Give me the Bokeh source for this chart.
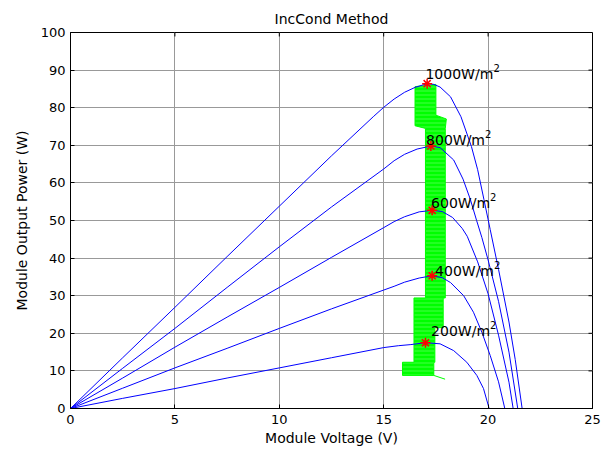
from bokeh.plotting import figure
from bokeh.models import Range1d, FixedTicker, Title
from bokeh.core.properties import value
from bokeh.embed import file_html
from bokeh.resources import INLINE

# ---- P-V curves (V in volts, P in watts) ----
v_1000 = [0, 2.5, 5, 7.5, 10, 12.5, 14.5, 15, 15.5, 16, 16.5, 17.08, 17.4, 17.7, 18.2, 18.7, 19.2, 19.5, 19.8, 20.1, 20.5, 21.0, 21.3, 21.63]
p_1000 = [0, 13.5, 26.9, 40.4, 53.8, 67.2, 77.6, 80.1, 82.3, 84.1, 85.4, 86.4, 86.2, 85.5, 82.9, 77.6, 69.7, 63.5, 55.6, 47.6, 37.0, 23.0, 13.0, 0]

v_800 = [0, 2.5, 5, 7.5, 10, 12.5, 15, 15.5, 16, 16.6, 17.26, 17.7, 18.35, 18.8, 19.15, 19.45, 19.7, 20.0, 20.5, 21.0, 21.42]
p_800 = [0, 10.7, 21.3, 32.2, 43.0, 53.6, 63.7, 65.9, 67.6, 69.0, 69.8, 69.4, 66.1, 61.0, 55.6, 50.0, 45.5, 39.5, 28.5, 15.0, 0]

v_600 = [0, 2.5, 5, 7.5, 10, 12.5, 15, 15.5, 16, 16.7, 17.32, 17.8, 18.3, 18.76, 19.0, 19.5, 20.0, 20.5, 21.0, 21.2]
p_600 = [0, 8.1, 16.3, 24.3, 32.2, 40.2, 48.1, 49.7, 51.0, 52.3, 52.7, 52.4, 50.8, 47.9, 45.8, 39.0, 30.5, 19.5, 7.0, 0]

v_400 = [0, 2.5, 5, 7.5, 10, 12.5, 15, 15.5, 16, 16.7, 17.32, 17.8, 18.2, 18.83, 19.3, 19.7, 20.1, 20.5, 20.8]
p_400 = [0, 5.4, 10.8, 16.0, 21.3, 26.5, 31.5, 32.5, 33.6, 34.7, 35.3, 34.8, 33.5, 30.0, 25.6, 20.3, 14.1, 7.1, 0]

v_200 = [0, 2.5, 5, 7.5, 10, 12.5, 15, 15.7, 16.3, 17.0, 17.7, 18.35, 18.98, 19.46, 19.78, 20.05]
p_200 = [0, 2.7, 5.3, 8.1, 10.8, 13.5, 16.2, 16.7, 17.0, 17.5, 17.2, 15.4, 12.3, 8.8, 5.3, 0]

# ---- maximum power points (red stars) ----
mpp_v = [17.08, 17.26, 17.32, 17.32, 17.0]
mpp_p = [86.4, 69.8, 52.7, 35.3, 17.5]

# ---- irradiance labels ----
label_text = ["1000W/m", "800W/m", "600W/m", "400W/m", "200W/m"]
label_sup = ["2", "2", "2", "2", "2"]
label_v = [17.0, 17.03, 17.27, 17.46, 17.27]
label_p = [88.9, 71.4, 54.7, 36.6, 20.7]

# ---- IncCond operating trajectory (green region outline) ----
trace_v = [16.5, 17.5, 17.5, 18.0, 17.95, 17.95, 17.85, 17.85, 17.45, 17.45, 17.4, 17.4,
           15.9, 15.9, 16.45, 16.45, 17.0, 17.0, 16.5, 16.5]
trace_p = [85.6, 86.2, 78.0, 77.0, 74.5, 29.4, 29.4, 21.5, 21.5, 12.3, 12.3, 8.8,
           8.8, 12.3, 12.3, 29.4, 29.4, 74.5, 75.2, 85.6]
tail_v = [17.4, 17.94]
tail_p = [8.8, 7.8]

x_ticks = [0, 5, 10, 15, 20, 25]
y_ticks = [0, 10, 20, 30, 40, 50, 60, 70, 80, 90, 100]

FONT = "DejaVu Sans"
X0, X1, Y0, Y1 = 0, 25, 0, 100
W, H = 606, 448
BL, BR, BT, BB = 70, 14, 32, 38
TICK_PX = 4

p = figure(width=W, height=H, x_range=Range1d(X0, X1), y_range=Range1d(Y0, Y1),
           output_backend="svg", toolbar_location=None,
           min_border_left=BL, min_border_right=BR, min_border_top=BT, min_border_bottom=BB)
p.outline_line_color = "black"
p.outline_line_alpha = 1.0
p.background_fill_color = "white"
p.border_fill_color = "white"

title = Title(text="IncCond Method", align="center", text_font=FONT,
              text_font_size="14px", text_font_style="normal", text_color="black", standoff=11)
p.add_layout(title, "above")

for ax in [p.xaxis[0], p.yaxis[0]]:
    ax.major_tick_in = TICK_PX
    ax.major_tick_out = 0
    ax.minor_tick_in = 0
    ax.minor_tick_out = 0
    ax.axis_line_color = "black"
    ax.major_tick_line_color = "black"
    ax.major_label_text_font = FONT
    ax.major_label_text_font_size = "13px"
    ax.major_label_text_color = "black"
    ax.axis_label_text_font = FONT
    ax.axis_label_text_font_size = "14px"
    ax.axis_label_text_font_style = "normal"
    ax.axis_label_text_color = "black"

p.xaxis[0].ticker = FixedTicker(ticks=x_ticks)
p.yaxis[0].ticker = FixedTicker(ticks=y_ticks)
p.xaxis[0].axis_label = "Module Voltage (V)"
p.yaxis[0].axis_label = "Module Output Power (W)"
p.xaxis[0].major_label_standoff = 6
p.yaxis[0].major_label_standoff = 5
p.xaxis[0].axis_label_standoff = 3
p.yaxis[0].axis_label_standoff = 8

p.xgrid.ticker = FixedTicker(ticks=x_ticks)
p.ygrid.ticker = FixedTicker(ticks=y_ticks)
p.xgrid.grid_line_color = "#999999"
p.ygrid.grid_line_color = "#999999"
p.xgrid.grid_line_width = 1
p.ygrid.grid_line_width = 1

# inward tick marks on the top and right edges of the box
frame_w = W - BL - BR
frame_h = H - BT - BB
dy = TICK_PX * (Y1 - Y0) / frame_h
dx = TICK_PX * (X1 - X0) / frame_w
p.segment(x0=x_ticks, y0=[Y1] * len(x_ticks), x1=x_ticks, y1=[Y1 - dy] * len(x_ticks),
          line_color="black", line_width=1)
p.segment(x0=[X1] * len(y_ticks), y0=y_ticks, x1=[X1 - dx] * len(y_ticks), y1=y_ticks,
          line_color="black", line_width=1)

# green operating region
p.patch(trace_v, trace_p, fill_color="#00ff00", line_color="#00ff00", line_width=1,
        hatch_pattern="horizontal_line", hatch_color="white", hatch_alpha=0.35,
        hatch_scale=4, hatch_weight=0.8)
p.line(tail_v, tail_p, line_color="#00ff00", line_width=1)

# blue P-V curves
for vv, pp in [(v_1000, p_1000), (v_800, p_800), (v_600, p_600), (v_400, p_400), (v_200, p_200)]:
    p.line(vv, pp, line_color="#0000ff", line_width=1)

# red MPP stars
p.scatter(mpp_v, mpp_p, marker="asterisk", size=10, line_color="#ff0000", line_width=1.5)

# labels
p.text(x=label_v, y=label_p, text=label_text, text_font=value(FONT), text_font_size="14px",
       text_color="black", text_align="left", text_baseline="alphabetic")
sup_offsets = [68, 59, 59, 59, 59]
p.text(x=label_v, y=label_p, text=label_sup, x_offset=sup_offsets, y_offset=-6,
       text_font=value(FONT), text_font_size="10px",
       text_color="black", text_align="left", text_baseline="alphabetic")

open("out.html", "w").write(file_html(p, INLINE))
